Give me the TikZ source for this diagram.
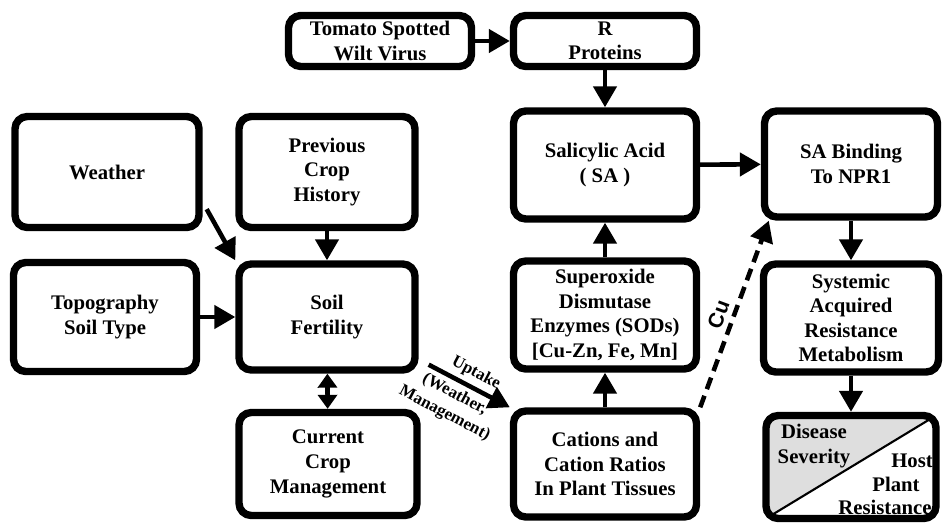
\documentclass[tikz,border=0pt]{standalone}
\usepackage{fontspec}
\setmainfont{Liberation Serif}
\setsansfont{Liberation Sans}
\usetikzlibrary{arrows.meta}

\def\px{0.02}
\def\boxlw{4.2pt}
\def\arrlw{2.6pt}

\begin{document}
\begin{tikzpicture}[x=\px cm, y=-\px cm,
        stage/.style 2 args={%
            draw, line width=\boxlw,
            rounded corners=7pt,
            align=center, inner sep=1pt,
            font=\bfseries\fontsize{11.8}{14}\selectfont,
            minimum width=#1*\px cm,
            minimum height=#2*\px cm,
        },
        txt/.style={align=center, inner sep=0pt,
            font=\bfseries\fontsize{11.8}{14}\selectfont},
        link/.style={line width=\arrlw, -{Triangle[length=0.42cm,width=0.46cm]}},
        twoway/.style={line width=\arrlw,
            {Triangle[length=0.28cm,width=0.38cm]}-{Triangle[length=0.28cm,width=0.38cm]}},
        cuflow/.style={link, dash pattern=on 7pt off 4pt},
        small/.style={font=\bfseries\fontsize{9.6}{12.2}\selectfont, inner sep=2.5pt},
    ]
    \useasboundingbox (0,0) rectangle (943,527);

    % top row
    \node[stage={183}{51}] (tsw) at (380,41) {Tomato Spotted\\Wilt Virus};
    \node[stage={183}{51}] (rpro) at (605,41) {R\\Proteins};

    % left block
    \node[stage={184}{111}] (weather) at (107,172) {Weather};
    \node[stage={176}{111}] (prev) at (327,172) {Previous\\Crop\\History};
    \node[stage={183}{109}] (topo) at (105,317) {Topography\\Soil Type};
    \node[stage={176}{106}] (soil) at (327,317) {Soil\\Fertility};
    \node[stage={178}{103}] (crop) at (328,464) {Current\\Crop\\Management};

    % middle column
    \node[stage={183}{108}] (sa) at (605,165) {Salicylic Acid\\( SA )};
    \node[stage={183}{108}] (sod) at (605,315) {Superoxide\\Dismutase\\Enzymes (SODs)\\{[Cu-Zn, Fe, Mn]}};
    \node[stage={183}{106}] (cat) at (605,464) {Cations and\\Cation Ratios\\In Plant Tissues};

    % right column
    \node[stage={173}{106}] (npr) at (851,164) {SA Binding\\To NPR1};
    \node[stage={175}{108}] (sar) at (851,318) {Systemic\\Acquired\\Resistance\\Metabolism};
    \node[stage={170}{103},
        path picture={
            \fill[black!13] (path picture bounding box.south west)
                -- (path picture bounding box.north east)
                -- (path picture bounding box.north west) -- cycle;
            \draw[line width=1.2pt] (path picture bounding box.south west)
                -- (path picture bounding box.north east);
        }] (dis) at (851,467) {};
    \node[txt] (sev) at (814,446) {Disease\\Severity};
    \node[txt] (host) at (912,461) {Host};
    \node[txt] (plant) at (896,484) {Plant};
    \node[txt] (resist) at (885,507) {Resistance};

    % connectors
    \draw[link] (tsw) -- (rpro);
    \draw[link] (rpro) -- (sa);
    \draw[link] (sa) -- (npr);
    \draw[link] (npr) -- (sar);
    \draw[link] (sar) -- (dis);
    \draw[link] (sod) -- (sa);
    \draw[link] (cat) -- (sod);
    \draw[link] (prev) -- (soil);
    \draw[link] (topo) -- (soil);
    \draw[link] ([shift={(4,-22)}]weather.south east) -- (soil.north west);
    \draw[twoway] (soil) -- (crop);
    \draw[link] ([shift={(10,-9)}]soil.south east) -- (cat.north west)
        node[small, sloped, above, pos=0.5] {Uptake}
        node[small, sloped, below, pos=0.4, align=center] {(Weather,\\Management)};
    \draw[cuflow] (cat.north east) -- ([xshift=8*\px cm]npr.south west)
        node[sloped, above, pos=0.47, inner sep=3pt,
             font=\sffamily\bfseries\fontsize{12}{12}\selectfont] {Cu};
\end{tikzpicture}
\end{document}
